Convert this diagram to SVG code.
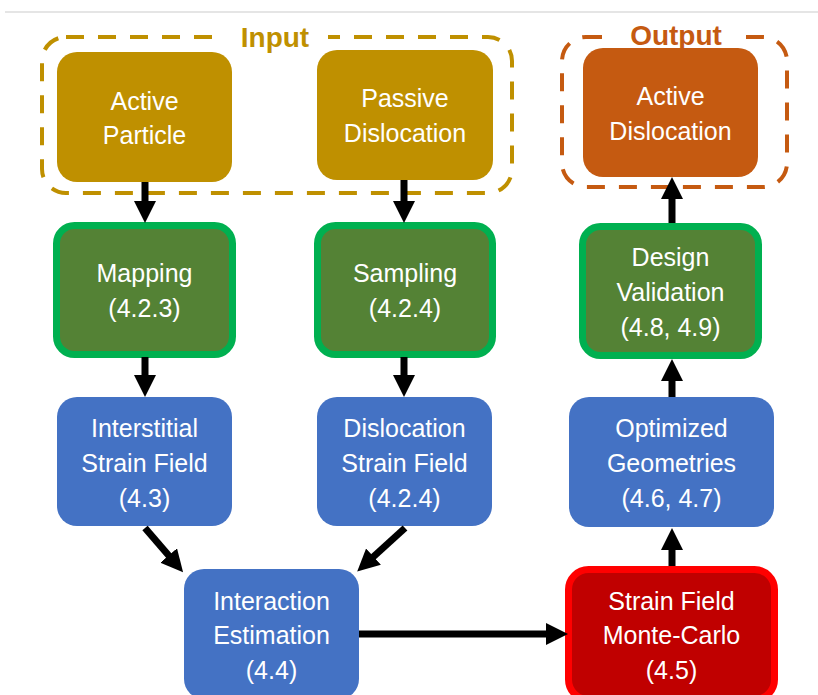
<svg xmlns="http://www.w3.org/2000/svg" width="818" height="695" viewBox="0 0 818 695">
<defs>
<marker id="ah" markerUnits="userSpaceOnUse" markerWidth="22" markerHeight="22" refX="2" refY="11" orient="auto">
<path d="M0,0 L22,11 L0,22 z" fill="#000"/>
</marker>
<style>
.t{font-family:"Liberation Sans",Arial,sans-serif;font-size:25px;fill:#fff;text-anchor:middle}
.lbl{font-family:"Liberation Sans",Arial,sans-serif;font-size:28px;font-weight:bold;text-anchor:middle}
.dash{fill:none;stroke-width:4;stroke-dasharray:18 14}
.gold{fill:#BF9000}
.orange{fill:#C55A11}
.green{fill:#548235;stroke:#00B050;stroke-width:7}
.blue{fill:#4472C4}
.red{fill:#C00000;stroke:#FF0000;stroke-width:7}
.c{stroke:#000;stroke-width:7;fill:none;marker-end:url(#ah)}
</style>
</defs>
<rect width="818" height="695" fill="#fff"/>
<line x1="5" y1="12" x2="818" y2="12" stroke="#dddddd" stroke-width="1.5"/>

<g id="input-group">
<rect x="42" y="37" width="470" height="156" rx="24" class="dash" stroke="#BF9000"/>
<rect x="222" y="25" width="106" height="24" fill="#fff"/>
<text x="275" y="47" class="lbl" fill="#BF9000">Input</text>
</g>
<g id="output-group">
<rect x="562" y="37" width="225" height="150" rx="24" class="dash" stroke="#C55A11"/>
<rect x="602" y="25" width="138" height="24" fill="#fff"/>
<text x="676" y="45" class="lbl" fill="#C55A11">Output</text>
</g>

<g id="active-particle">
<rect x="57" y="52" width="175" height="130" rx="20" class="gold"/>
<text x="144.5" y="110" class="t">Active</text>
<text x="144.5" y="144" class="t">Particle</text>
</g>
<g id="passive-dislocation">
<rect x="317" y="50" width="176" height="130" rx="20" class="gold"/>
<text x="405" y="107" class="t">Passive</text>
<text x="405" y="142" class="t">Dislocation</text>
</g>
<g id="active-dislocation">
<rect x="583" y="48" width="175" height="129" rx="20" class="orange"/>
<text x="670.5" y="105" class="t">Active</text>
<text x="670.5" y="140" class="t">Dislocation</text>
</g>

<g id="mapping">
<rect x="56.5" y="225.5" width="176" height="129" rx="18" class="green"/>
<text x="144.5" y="282" class="t">Mapping</text>
<text x="144.5" y="317" class="t">(4.2.3)</text>
</g>
<g id="sampling">
<rect x="317.5" y="225.5" width="175" height="129" rx="18" class="green"/>
<text x="405" y="282" class="t">Sampling</text>
<text x="405" y="317" class="t">(4.2.4)</text>
</g>
<g id="design-validation">
<rect x="582.5" y="226.5" width="176" height="129" rx="18" class="green"/>
<text x="670.5" y="266" class="t">Design</text>
<text x="670.5" y="301" class="t">Validation</text>
<text x="670.5" y="336" class="t">(4.8, 4.9)</text>
</g>

<g id="interstitial-strain-field">
<rect x="57" y="397" width="175" height="129" rx="20" class="blue"/>
<text x="144.5" y="437" class="t">Interstitial</text>
<text x="144.5" y="472" class="t">Strain Field</text>
<text x="144.5" y="507" class="t">(4.3)</text>
</g>
<g id="dislocation-strain-field">
<rect x="317" y="397" width="175" height="129" rx="20" class="blue"/>
<text x="404.5" y="437" class="t">Dislocation</text>
<text x="404.5" y="472" class="t">Strain Field</text>
<text x="404.5" y="507" class="t">(4.2.4)</text>
</g>
<g id="optimized-geometries">
<rect x="569" y="397" width="205" height="130" rx="20" class="blue"/>
<text x="671.5" y="437" class="t">Optimized</text>
<text x="671.5" y="472" class="t">Geometries</text>
<text x="671.5" y="507" class="t">(4.6, 4.7)</text>
</g>
<g id="interaction-estimation">
<rect x="184" y="569" width="175" height="130" rx="20" class="blue"/>
<text x="271.5" y="610" class="t">Interaction</text>
<text x="271.5" y="644" class="t">Estimation</text>
<text x="271.5" y="679" class="t">(4.4)</text>
</g>
<g id="strain-field-monte-carlo">
<rect x="568.5" y="569.5" width="206" height="130" rx="20" class="red"/>
<text x="671.5" y="610" class="t">Strain Field</text>
<text x="671.5" y="644" class="t">Monte-Carlo</text>
<text x="671.5" y="679" class="t">(4.5)</text>
</g>

<g id="connectors">
<line x1="145" y1="182" x2="145" y2="203" class="c"/>
<line x1="404" y1="180" x2="404" y2="203" class="c"/>
<line x1="145" y1="357" x2="145" y2="377" class="c"/>
<line x1="404" y1="357" x2="404" y2="377" class="c"/>
<line x1="145" y1="528" x2="170" y2="557" class="c"/>
<line x1="405" y1="528" x2="372" y2="558" class="c"/>
<line x1="359" y1="634" x2="548" y2="634" class="c"/>
<line x1="672" y1="566" x2="672" y2="548" class="c"/>
<line x1="672" y1="397" x2="672" y2="379" class="c"/>
<line x1="672" y1="223" x2="672" y2="197" class="c"/>
</g>
</svg>
